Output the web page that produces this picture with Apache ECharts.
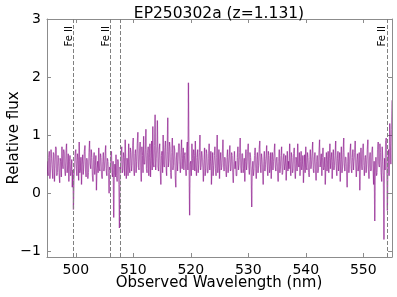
<!DOCTYPE html>
<html>
<head>
<meta charset="utf-8">
<script src="https://cdn.jsdelivr.net/npm/echarts@6/dist/echarts.min.js"></script>
<style>
html,body{margin:0;padding:0;background:#fff;}
#chart{width:397px;height:297px;}
</style>
</head>
<body>
<div id="chart"></div>
<script>
// Spectrum: wavelength grid start/step (nm) and relative flux values
var waveStart = 495.0;
var waveStep = 0.1;
var flux = [
 0.55,0.38,0.30,0.62,0.72,0.25,0.40,0.75,0.60,0.42,
 0.25,0.70,0.68,0.20,0.45,0.80,0.78,0.30,0.35,0.65,
 0.62,0.35,0.18,0.60,0.55,0.28,0.80,0.50,0.42,0.75,
 0.70,0.40,0.30,0.72,0.85,0.35,0.45,0.68,0.20,0.55,
 0.65,0.30,0.38,0.58,0.10,0.40,-0.28,0.25,0.45,0.70,
 0.75,0.45,0.30,0.68,0.60,0.22,0.88,0.35,0.40,0.62,
 0.15,0.50,0.66,0.32,0.50,0.72,0.82,0.40,0.28,0.60,
 0.58,0.25,0.35,0.70,0.90,0.50,0.42,0.75,0.62,0.30,
 0.20,0.58,0.70,0.32,0.48,0.65,0.05,0.42,0.55,0.35,
 0.78,0.42,0.38,0.68,0.62,0.30,0.25,0.55,0.70,0.38,
 0.45,0.65,0.82,0.40,0.30,0.60,0.55,0.35,0.00,0.45,
 0.40,0.62,0.72,0.35,0.28,0.55,-0.42,0.30,0.50,0.28,
 0.66,0.30,0.20,0.58,0.55,0.15,-0.60,0.45,0.35,0.72,
 0.80,0.35,0.40,0.70,0.62,0.30,0.92,0.55,0.25,0.60,
 0.58,0.30,0.85,0.45,0.35,0.78,0.70,0.38,0.48,0.82,
 0.95,0.40,0.30,0.68,0.75,0.35,0.55,0.85,1.05,0.45,
 0.40,0.72,0.88,0.45,0.20,0.80,0.65,0.35,0.98,0.50,
 0.50,0.75,1.10,0.42,0.35,0.70,0.80,0.30,0.62,0.85,
 0.28,0.60,0.90,0.40,1.15,0.50,0.45,0.82,1.35,0.40,
 0.60,0.80,1.25,0.45,0.38,0.75,0.85,0.40,0.15,0.65,
 0.72,0.35,1.00,0.50,0.45,0.78,0.90,0.48,0.30,0.72,
 1.30,0.45,0.55,0.88,0.80,0.35,0.25,0.70,0.95,0.40,
 0.48,0.82,0.75,0.30,0.10,0.60,0.70,0.38,0.55,0.85,
 0.85,0.50,0.35,0.70,0.92,0.42,0.60,0.78,0.40,0.65,
 0.70,0.45,0.30,0.75,0.88,0.40,1.90,0.55,-0.38,0.50,
 0.55,0.30,0.85,0.60,0.40,0.75,0.65,0.38,0.90,0.45,
 0.30,0.62,0.75,0.35,0.50,0.70,1.00,0.40,0.45,0.72,
 0.62,0.45,0.20,0.58,0.78,0.30,0.40,0.75,0.68,0.35,
 0.35,0.60,0.85,0.40,0.55,0.72,0.15,0.48,0.70,0.30,
 0.48,0.65,0.80,0.42,0.30,0.62,1.00,0.35,0.52,0.75,
 0.25,0.55,0.70,0.40,0.45,0.68,0.92,0.50,0.38,0.62,
 0.60,0.40,0.28,0.62,0.75,0.35,0.50,0.65,0.82,0.38,
 0.40,0.70,0.65,0.35,0.18,0.55,0.72,0.42,0.55,0.30,
 0.30,0.62,0.80,0.40,0.48,0.70,0.95,0.45,0.35,0.68,
 0.68,0.35,0.42,0.60,0.20,0.55,0.75,0.40,0.50,0.72,
 0.85,0.45,0.32,0.70,0.62,0.38,-0.24,0.40,0.55,0.30,
 0.40,0.65,0.78,0.42,0.25,0.60,0.70,0.35,0.48,0.75,
 0.90,0.50,0.35,0.68,0.60,0.40,0.15,0.55,0.72,0.38,
 0.50,0.62,0.82,0.45,0.30,0.72,0.65,0.35,0.42,0.70,
 0.25,0.58,0.70,0.40,0.55,0.68,0.85,0.45,0.38,0.60,
 0.62,0.40,0.20,0.55,0.75,0.35,0.45,0.65,0.80,0.32,
 0.35,0.60,0.68,0.40,0.50,0.65,0.22,0.50,0.72,0.38,
 0.55,0.42,0.85,0.50,0.30,0.70,0.62,0.35,0.40,0.68,
 0.78,0.40,0.25,0.62,0.58,0.38,0.85,0.50,0.45,0.70,
 0.30,0.55,0.72,0.40,0.50,0.65,0.18,0.45,0.66,0.35,
 0.80,0.45,0.40,0.70,0.62,0.35,0.28,0.58,0.75,0.42,
 0.50,0.68,0.88,0.42,0.35,0.60,0.70,0.40,0.22,0.55,
 0.65,0.35,0.40,0.72,0.92,0.45,0.55,0.68,0.30,0.62,
 0.78,0.40,0.45,0.62,0.15,0.50,0.70,0.38,0.52,0.72,
 0.35,0.60,0.85,0.42,0.60,0.70,0.25,0.55,0.75,0.40,
 0.48,0.65,0.90,0.45,0.30,0.60,0.72,0.38,0.55,0.70,
 0.20,0.58,0.80,0.35,0.45,0.70,0.95,0.50,0.38,0.62,
 0.62,0.40,0.10,0.55,0.70,0.35,0.50,0.72,0.85,0.42,
 0.35,0.62,0.75,0.40,0.55,0.70,0.90,0.45,0.28,0.58,
 0.68,0.38,0.45,0.70,0.05,0.45,0.78,0.50,0.40,0.72,
 0.85,0.48,0.30,0.62,0.65,0.35,0.50,0.75,0.92,0.40,
 0.25,0.60,0.70,0.38,0.40,0.72,0.80,0.45,0.15,0.55,
 -0.48,0.40,0.62,0.30,0.35,0.75,0.88,0.50,0.45,0.85,
 0.70,0.35,0.20,0.80,0.55,0.30,-0.80,0.60,0.40,0.90,
 0.95,0.40,-0.30,0.60,0.75,0.30,1.20,0.85,0.50,1.10,
 1.60
];
// Fe II line positions (observed, nm) and labels
var lineWaves = [499.55, 506.0, 507.8, 554.1];
var lineLabels = ['Fe II', 'Fe II', '', 'Fe II'];
// Axis ticks
var xTicks = [500, 510, 520, 530, 540, 550];
var yTicks = [-1, 0, 1, 2, 3];
var xMin = 495, xMax = 555, yMin = -1.1, yMax = 3.0;
var titleText = 'EP250302a (z=1.131)';
var xName = 'Observed Wavelength (nm)';
var yName = 'Relative flux';

// each segment drawn separately so overlapping semi-transparent strokes darken
var segs = [];
for (var i = 0; i < flux.length - 1; i++) {
  segs.push([waveStart + waveStep * i, flux[i], waveStart + waveStep * (i + 1), flux[i + 1]]);
}

var font = 'DejaVu Sans';
var chart = echarts.init(document.getElementById('chart'), null, {renderer: 'canvas'});
var frameColor = '#8c8c8c';
function xAxisDef(pos, show) {
  return {
    type: 'value', min: xMin, max: xMax, position: pos,
    axisLine: {show: true, onZero: false, lineStyle: {color: frameColor, width: 1}},
    axisTick: {show: true, inside: true, length: 4, customValues: xTicks, lineStyle: {color: frameColor}},
    axisLabel: {show: show, customValues: xTicks, color: '#000', fontFamily: font, fontSize: 14, margin: 6},
    splitLine: {show: false}
  };
}
function yAxisDef(pos, show) {
  return {
    type: 'value', min: yMin, max: yMax, position: pos,
    axisLine: {show: true, onZero: false, lineStyle: {color: frameColor, width: 1}},
    axisTick: {show: true, inside: true, length: 4, customValues: yTicks, lineStyle: {color: frameColor}},
    axisLabel: {show: show, customValues: yTicks, color: '#000', fontFamily: font, fontSize: 14, margin: 6,
      formatter: function (v) { return v < 0 ? '\u2212' + Math.abs(v) : String(v); }},
    splitLine: {show: false}
  };
}
var markData = lineWaves.map(function (w, k) {
  return {xAxis: w, label: {show: lineLabels[k] !== '', formatter: lineLabels[k]}};
});
var option = {
  animation: false,
  backgroundColor: '#fff',
  title: {text: titleText, left: 214, top: 1, textAlign: 'center',
    textStyle: {fontFamily: font, fontSize: 15.5, fontWeight: 'normal', color: '#000'}},
  grid: {left: 47, right: 5, top: 19, bottom: 40, outerBoundsMode: 'none', containLabel: false},
  xAxis: [xAxisDef('bottom', true), xAxisDef('top', false)],
  yAxis: [yAxisDef('left', true), yAxisDef('right', false)],
  graphic: [
    {type: 'text', x: 219, y: 283, silent: true,
     style: {text: xName, fontFamily: font, fontSize: 15, fill: '#000', align: 'center', verticalAlign: 'middle'}},
    {type: 'text', x: 14, y: 138, rotation: Math.PI / 2, silent: true,
     style: {text: yName, fontFamily: font, fontSize: 15, fill: '#000', align: 'center', verticalAlign: 'middle'}}
  ],
  series: [
    {type: 'custom', data: segs, silent: true, clip: true,
     encode: {x: [0, 2], y: [1, 3]},
     renderItem: function (params, api) {
       var p0 = api.coord([api.value(0), api.value(1)]);
       var p1 = api.coord([api.value(2), api.value(3)]);
       return {type: 'line', shape: {x1: p0[0], y1: p0[1], x2: p1[0], y2: p1[1]},
         style: {stroke: 'rgba(128,0,128,0.5)', lineWidth: 1.25, fill: null}};
     },
     markLine: {
       silent: true, symbol: 'none', animation: false,
       lineStyle: {color: '#808080', type: [4, 2], width: 1, opacity: 1},
       label: {position: 'insideEndTop', color: '#000', fontFamily: font, fontSize: 10, distance: -1, padding: [0, 8, 0, 0]},
       data: markData
     }, z: 2}
  ]
};
chart.setOption(option);
</script>
</body>
</html>
